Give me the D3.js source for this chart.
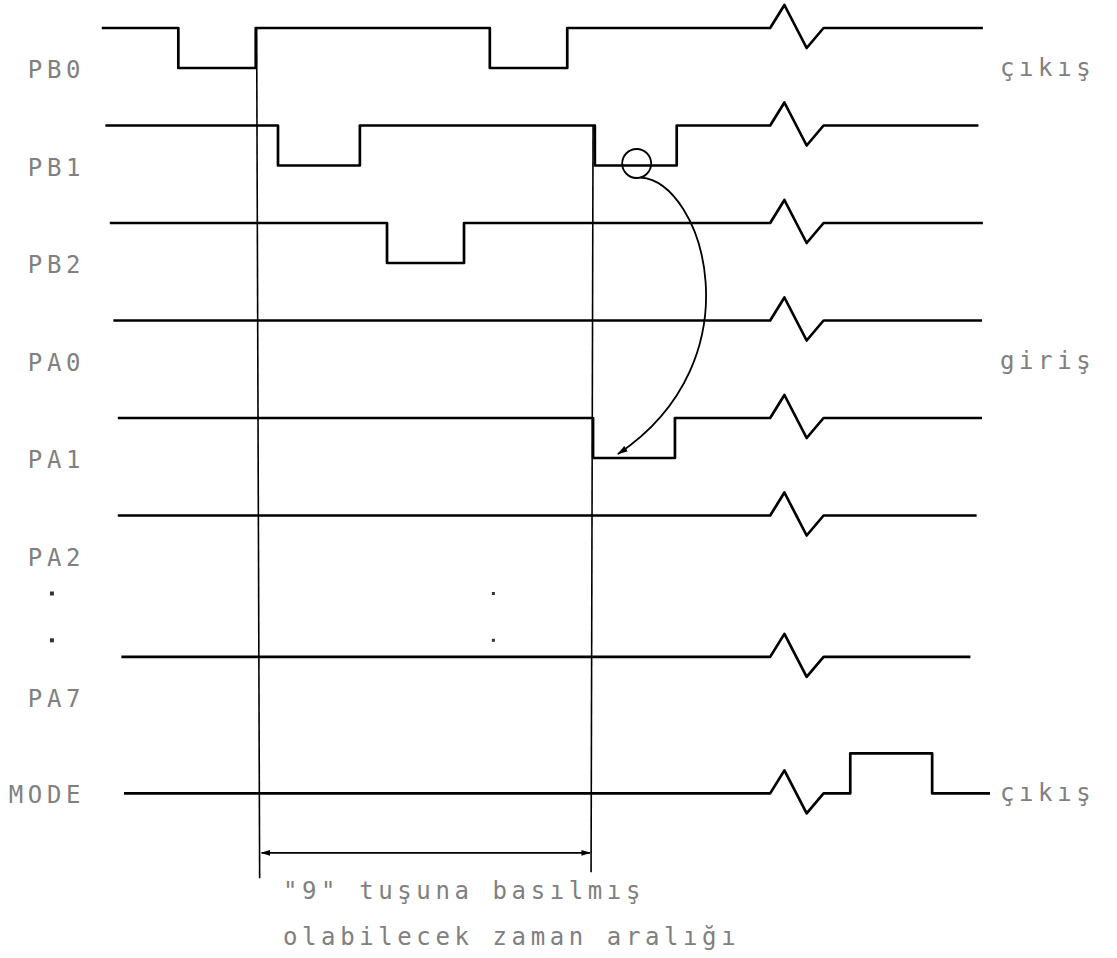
<!DOCTYPE html>
<html>
<head>
<meta charset="utf-8">
<script src="https://cdn.jsdelivr.net/npm/d3@7"></script>
<style>
  body { margin: 0; background: #fff; }
  .lbl { font-family: "DejaVu Sans Mono", monospace; font-size: 24px; fill: #808080; letter-spacing: 4.6px; }
</style>
</head>
<body>
<div class="chart"></div>
<script>
// signal names, lane index (0 = top) and idle level (1 = high)
const signals = ["PB0", "PB1", "PB2", "PA0", "PA1", "PA2", "PA7", "MODE"];
const lanes = [0, 1, 2, 3, 4, 5, 6.45, 7.44];
const idleLevel = [1, 1, 1, 1, 1, 1, 1, 0];
// where each trace starts and ends (time units 0..100)
const startT = [0.2, 0.6, 1.1, 1.5, 2.0, 2.0, 2.4, 2.7];
const endT = [99.2, 98.7, 99.2, 99.1, 99.1, 98.5, 97.8, 100];
// pulses: [from, to] in time units, the level flips inside
const pulses = [
  [[8.8, 17.5], [43.8, 52.5]],
  [[20.0, 29.2], [55.6, 64.8]],
  [[32.25, 40.9]],
  [],
  [[55.4, 64.6]],
  [],
  [],
  [[84.3, 93.5]]
];
const breakT = 75.3;           // time break (zigzag)
const windowT = [17.6, 55.4];  // key-press window
const dirLabels = [["çıkış", 0], ["giriş", 3], ["çıkış", 7]];
const noteLines = ["\"9\" tuşuna basılmış", "olabilecek zaman aralığı"];

const width = 1117, height = 958;
const amp = 40;

const x = d3.scaleLinear().domain([0, 100]).range([100, 990]);
const y = d3.scaleLinear().domain([0, 1]).range([28, 125.5]);
// y of a lane at a level
const yl = (lane, level) => y(lane) + (1 - level) * amp;

const svg = d3.select('.chart').append('svg')
  .attr('width', width)
  .attr('height', height);

const defs = svg.append('defs');
defs.append('marker')
  .attr('id', 'head')
  .attr('viewBox', '0 0 10 10')
  .attr('refX', 9).attr('refY', 5)
  .attr('markerWidth', 6).attr('markerHeight', 6)
  .attr('markerUnits', 'strokeWidth')
  .attr('orient', 'auto-start-reverse')
  .append('path').attr('d', 'M0,2 L10,5 L0,8 z').attr('fill', '#000');

const line = d3.line();

// build points for each trace
signals.forEach((name, i) => {
  const lane = lanes[i];
  const idle = idleLevel[i];
  const pts = [[x(startT[i]), yl(lane, idle)]];
  const events = pulses[i].map(p => ({t0: p[0], t1: p[1]}));
  let glitchDone = false;
  const addGlitch = () => {
    const b = yl(lane, idle);
    pts.push([x(breakT), b]);
    pts.push([x(breakT + 1.6), b - 23]);
    pts.push([x(breakT + 4.1), b + 20]);
    pts.push([x(breakT + 6.0), b]);
    glitchDone = true;
  };
  events.forEach(e => {
    if (!glitchDone && e.t0 > breakT) addGlitch();
    pts.push([x(e.t0), yl(lane, idle)]);
    pts.push([x(e.t0), yl(lane, 1 - idle)]);
    pts.push([x(e.t1), yl(lane, 1 - idle)]);
    pts.push([x(e.t1), yl(lane, idle)]);
  });
  if (!glitchDone) addGlitch();
  pts.push([x(endT[i]), yl(lane, idle)]);

  svg.append('path')
    .attr('d', line(pts))
    .attr('fill', 'none')
    .attr('stroke', '#000')
    .attr('stroke-width', 2.7)
    .attr('stroke-linejoin', 'round');

  // left label
  svg.append('text')
    .attr('class', 'lbl')
    .attr('text-anchor', 'end')
    .attr('x', 85)
    .attr('y', yl(lane, 0) + 10)
    .text(name);
});

// window markers
svg.append('line')
  .attr('x1', x(windowT[0])).attr('x2', x(windowT[0]) + 3)
  .attr('y1', y(0)).attr('y2', y(8.72))
  .attr('stroke', '#000').attr('stroke-width', 1.6);
svg.append('line')
  .attr('x1', x(windowT[1])).attr('x2', x(windowT[1]) - 2)
  .attr('y1', y(1)).attr('y2', y(8.66))
  .attr('stroke', '#000').attr('stroke-width', 1.6);

// double arrow under the window
svg.append('line')
  .attr('x1', x(windowT[0]) + 5).attr('x2', x(windowT[1]) - 3)
  .attr('y1', y(8.46)).attr('y2', y(8.46))
  .attr('stroke', '#000').attr('stroke-width', 1.6)
  .attr('marker-start', 'url(#head)')
  .attr('marker-end', 'url(#head)');

// circle on PB1 low and curved arrow down to PA1 low
const cx = x(60.3), cy = yl(1, 0) - 2;
svg.append('circle')
  .attr('cx', cx).attr('cy', cy).attr('r', 14.5)
  .attr('fill', 'none').attr('stroke', '#000').attr('stroke-width', 1.8);
const ax = x(58.2), ay = yl(4, 0) - 4;
const arc = d3.path();
arc.moveTo(cx + 4, cy + 14);
arc.bezierCurveTo(x(67.8), y(1.58), x(74), y(3.4), ax, ay);
svg.append('path')
  .attr('d', arc.toString())
  .attr('fill', 'none').attr('stroke', '#000').attr('stroke-width', 1.8)
  .attr('marker-end', 'url(#head)');

// ellipsis marks between PA2 and PA7
[[-5.4, 5.8, 4], [-5.4, 6.28, 4], [44.2, 5.8, 3], [44.2, 6.28, 3]].forEach(d => {
  svg.append('rect')
    .attr('x', x(d[0]) - d[2] / 2).attr('y', y(d[1]) - d[2] / 2)
    .attr('width', d[2]).attr('height', d[2])
    .attr('fill', '#333');
});

// direction labels on the right
dirLabels.forEach(d => {
  svg.append('text')
    .attr('class', 'lbl')
    .attr('x', 1000)
    .attr('y', yl(lanes[d[1]], 0) + 8)
    .text(d[0]);
});

// note under the window
noteLines.forEach((t, i) => {
  svg.append('text')
    .attr('class', 'lbl')
    .attr('x', 283)
    .attr('y', 899 + i * 46)
    .text(t);
});
</script>
</body>
</html>
